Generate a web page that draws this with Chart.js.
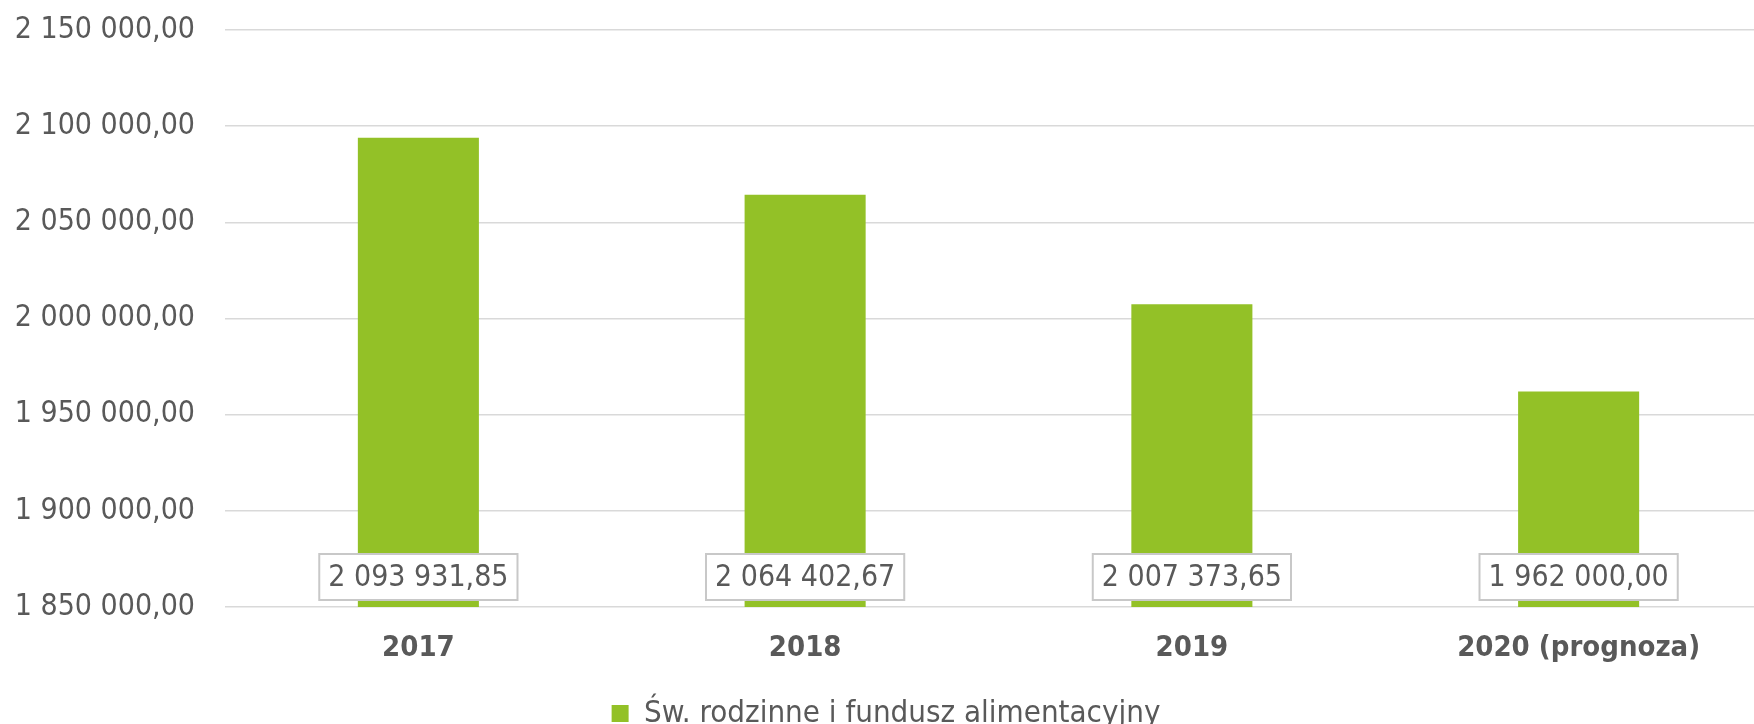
<!DOCTYPE html>
<html>
<head>
<meta charset="utf-8">
<script src="https://cdn.jsdelivr.net/npm/chart.js@4"></script>
<style>
  html, body { margin: 0; padding: 0; background: #fff; overflow: hidden; }
  canvas { display: block; }
</style>
</head>
<body>
<canvas id="chart" width="1772" height="739"></canvas>
<script>
const years = ["2017", "2018", "2019", "2020 (prognoza)"];
const amounts = [2093931.85, 2064402.67, 2007373.65, 1962000.0];
const seriesName = "\u015Aw. rodzinne i fundusz alimentacyjny"; // Św.

const FONT = "'DejaVu Sans Condensed', 'DejaVu Sans', sans-serif";
const textColor = "#595959";
const barColor = "#93C127";

// polish style: 2 093 931,85
const fmt = (v) => {
  const parts = Number(v).toFixed(2).split(".");
  return parts[0].replace(/\B(?=(\d{3})+(?!\d))/g, " ") + "," + parts[1];
};

const valueBoxes = {
  id: "valueBoxes",
  afterDatasetsDraw(chart) {
    const ctx = chart.ctx;
    const base = chart.scales.y.bottom;
    ctx.save();
    ctx.font = "30px " + FONT;
    ctx.textAlign = "center";
    ctx.textBaseline = "middle";
    chart.getDatasetMeta(0).data.forEach((bar, i) => {
      const label = fmt(chart.data.datasets[0].data[i]);
      const w = ctx.measureText(label).width + 18;
      const h = 46;
      const x = bar.x - w / 2;
      const y = base - 7 - h;
      ctx.fillStyle = "#fff";
      ctx.fillRect(x, y, w, h);
      ctx.strokeStyle = "#c8c8c8";
      ctx.lineWidth = 2;
      ctx.strokeRect(x, y, w, h);
      ctx.fillStyle = textColor;
      ctx.fillText(label, bar.x, y + h / 2 + 1);
    });
    ctx.restore();
  },
};

new Chart(document.getElementById("chart"), {
  type: "bar",
  data: {
    labels: years,
    datasets: [
      {
        label: seriesName,
        data: amounts,
        backgroundColor: barColor,
        categoryPercentage: 1,
        barPercentage: 0.313,
      },
    ],
  },
  options: {
    responsive: false,
    animation: false,
    layout: { padding: { top: 30, right: 0, left: 0, bottom: 0 } },
    scales: {
      y: {
        min: 1850000,
        max: 2150000,
        border: { display: false },
        grid: { color: "#d9d9d9", lineWidth: 1.5, drawTicks: false },
        ticks: {
          stepSize: 50000,
          padding: 30,
          color: textColor,
          font: { family: FONT, size: 30 },
          callback: (v) => fmt(v),
        },
        afterFit: (s) => {
          s.width = 225;
          s.paddingTop = 0;
          s.paddingBottom = 0;
        },
      },
      x: {
        border: { display: false },
        grid: { display: false, drawTicks: false },
        ticks: {
          padding: 24,
          color: textColor,
          font: { family: FONT, size: 29, weight: "bold" },
        },
        afterFit: (s) => { s.height = 83; },
      },
    },
    plugins: {
      tooltip: { enabled: false },
      legend: {
        position: "bottom",
        labels: {
          padding: 8,
          boxWidth: 17,
          boxHeight: 17,
          color: textColor,
          font: { family: FONT, size: 31 },
        },
      },
    },
  },
  plugins: [valueBoxes],
});
</script>
</body>
</html>
